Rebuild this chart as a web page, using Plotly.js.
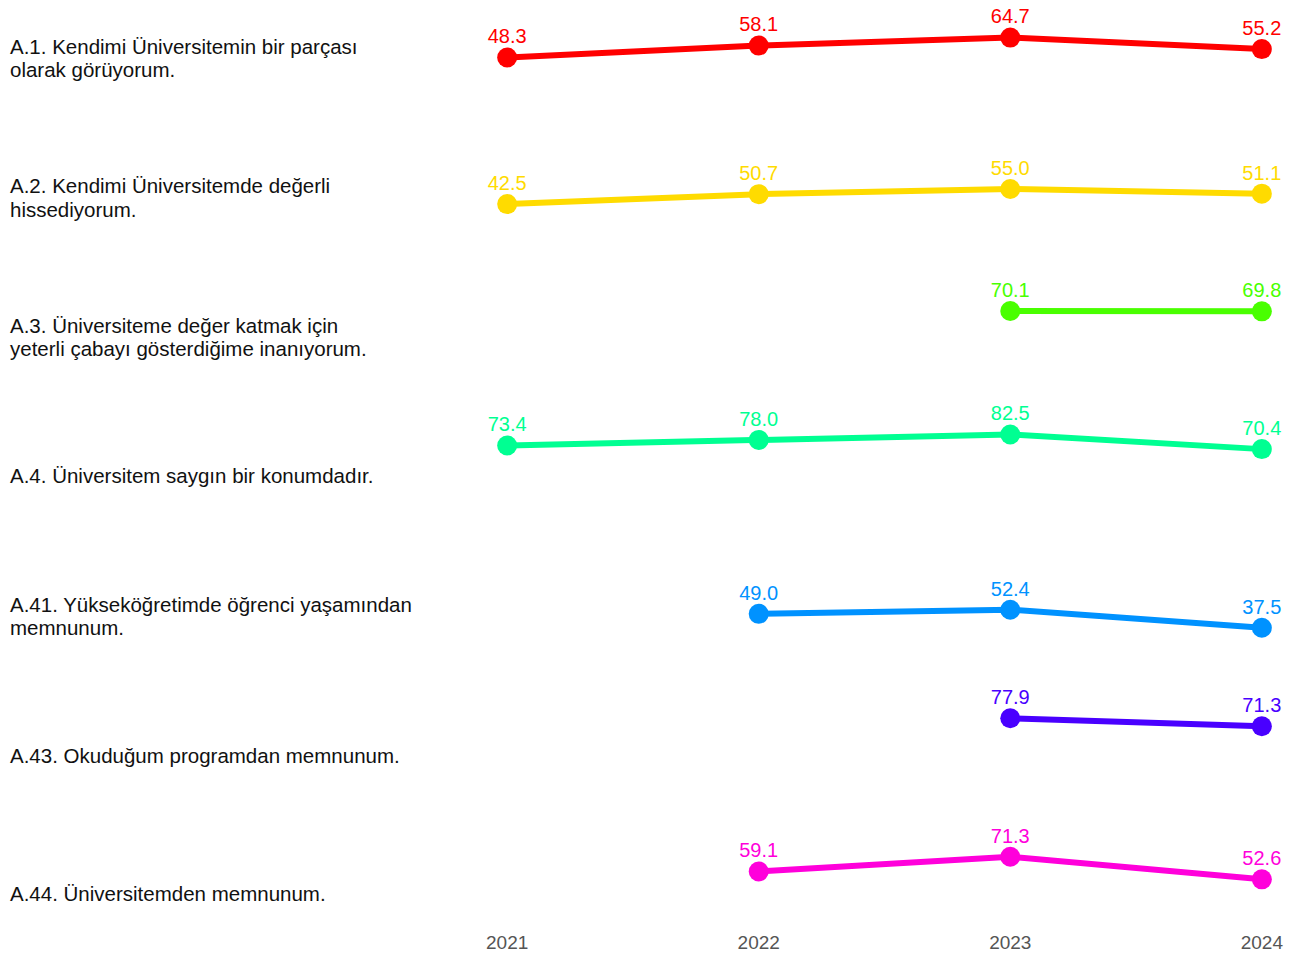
<!DOCTYPE html>
<html>
<head>
<meta charset="utf-8">
<script src="https://cdn.plot.ly/plotly-3.0.1.min.js"></script>
<style>html,body{margin:0;padding:0;background:#fff;}#chart{width:1295px;height:956px;}</style>
</head>
<body>
<div id="chart"></div>
<script>
const years = [2021, 2022, 2023, 2024];
const itemLabels = [
  ["A.1. Kendimi Üniversitemin bir parçası", "olarak görüyorum."],
  ["A.2. Kendimi Üniversitemde değerli", "hissediyorum."],
  ["A.3. Üniversiteme değer katmak için", "yeterli çabayı gösterdiğime inanıyorum."],
  ["A.4. Üniversitem saygın bir konumdadır."],
  ["A.41. Yükseköğretimde öğrenci yaşamından", "memnunum."],
  ["A.43. Okuduğum programdan memnunum."],
  ["A.44. Üniversitemden memnunum."]
];
const a1  = [48.3, 58.1, 64.7, 55.2];
const a2  = [42.5, 50.7, 55.0, 51.1];
const a3  = [null, null, 70.1, 69.8];
const a4  = [73.4, 78.0, 82.5, 70.4];
const a41 = [null, 49.0, 52.4, 37.5];
const a43 = [null, null, 77.9, 71.3];
const a44 = [null, 59.1, 71.3, 52.6];
const seriesValues = [a1, a2, a3, a4, a41, a43, a44];
const colors = ["#FF0000", "#FFDB00", "#49FF00", "#00FF92", "#0092FF", "#4900FF", "#FF00DB"];

// layout geometry (pixels)
const W = 1295, Hfig = 956;
const mL = 482, mR = 8, mT = 0, mB = 31;
const plotH = Hfig - mT - mB;
const plotW = W - mL - mR;
const zeroPx = [115.9, 255.5, 395.8, 534.3, 673.1, 812.5, 943];
const pxPerUnit = 1.21;
const lo = 25, hi = 95;
const labelCenterPx = [58, 197.5, 337.5, 476, 615.5, 755, 893];
const lineGap = 23;

const FONT = "Liberation Sans, Arial, Helvetica, sans-serif";

const traces = [];
const layout = {
  width: W, height: Hfig,
  margin: {l: mL, r: mR, t: mT, b: mB},
  paper_bgcolor: "#ffffff",
  plot_bgcolor: "#ffffff",
  showlegend: false,
  font: {family: FONT},
  xaxis: {
    range: [2020.9, 2024.1],
    tickvals: years,
    ticktext: years.map(String),
    showgrid: false, zeroline: false, showline: false, ticks: "",
    tickfont: {size: 19, color: "#555555", family: FONT},
    anchor: "free", position: 0,
    ticklabelstandoff: 4
  },
  annotations: []
};

seriesValues.forEach((vals, i) => {
  const yName = i === 0 ? "y" : "y" + (i + 1);
  const axName = i === 0 ? "yaxis" : "yaxis" + (i + 1);
  traces.push({
    x: years, y: vals, yaxis: yName, xaxis: "x",
    type: "scatter", mode: "lines+markers",
    line: {color: colors[i], width: 6},
    marker: {color: colors[i], size: 20},
    cliponaxis: false,
    connectgaps: false,
    hoverinfo: "x+y"
  });
  traces.push({
    x: years, y: vals, yaxis: yName, xaxis: "x",
    type: "scatter", mode: "markers+text",
    marker: {color: "rgba(0,0,0,0)", size: 13},
    texttemplate: "%{y:.1f}",
    textposition: "top center",
    textfont: {size: 20, color: colors[i], family: FONT},
    cliponaxis: false,
    hoverinfo: "skip"
  });
  const z = zeroPx[i];
  const d0 = 1 - (z - pxPerUnit * lo) / plotH;
  const d1 = 1 - (z - pxPerUnit * hi) / plotH;
  layout[axName] = {
    domain: [Math.max(0, d0), Math.min(1, d1)],
    range: [lo, hi],
    visible: false, showgrid: false, zeroline: false,
    anchor: "x"
  };
  const lines = itemLabels[i];
  lines.forEach((ln, k) => {
    const cy = labelCenterPx[i] + (k - (lines.length - 1) / 2) * lineGap;
    layout.annotations.push({
      text: ln,
      xref: "paper", yref: "paper",
      x: (8 - mL) / plotW, y: 1 - cy / plotH,
      xanchor: "left", yanchor: "middle", align: "left",
      showarrow: false,
      font: {size: 20.5, color: "#111111", family: FONT}
    });
  });
});

Plotly.newPlot("chart", traces, layout, {displayModeBar: false, staticPlot: true});
</script>
</body>
</html>
